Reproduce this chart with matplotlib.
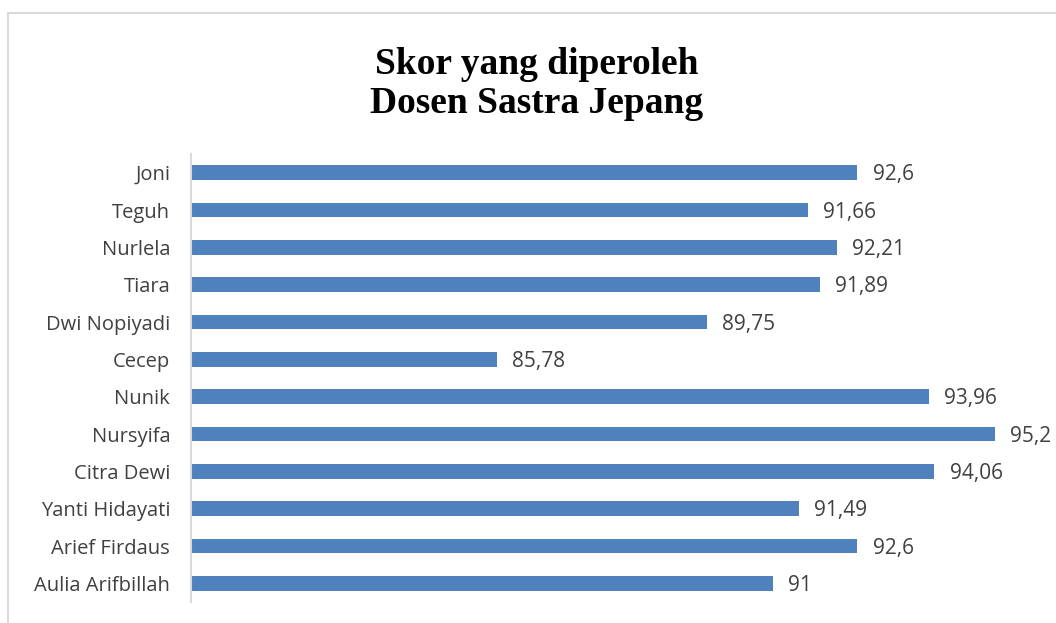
import matplotlib.pyplot as plt
from matplotlib.lines import Line2D

names = ['Joni', 'Teguh', 'Nurlela', 'Tiara', 'Dwi Nopiyadi', 'Cecep', 'Nunik',
         'Nursyifa', 'Citra Dewi', 'Yanti Hidayati', 'Arief Firdaus', 'Aulia Arifbillah']
scores = [92.6, 91.66, 92.21, 91.89, 89.75, 85.78, 93.96, 95.2, 94.06, 91.49, 92.6, 91]
score_labels = ['92,6', '91,66', '92,21', '91,89', '89,75', '85,78', '93,96',
                '95,2', '94,06', '91,49', '92,6', '91']

W, H = 1056, 623
fig = plt.figure(figsize=(W / 100, H / 100), dpi=100)

# bingkai chart (abu-abu muda)
fig.add_artist(Line2D([8 / W, 8 / W], [0, 1 - 13 / H], color='#D9D9D9', lw=1.5))
fig.add_artist(Line2D([8 / W, 1], [1 - 13 / H, 1 - 13 / H], color='#D9D9D9', lw=1.5))

# judul
fig.text(537 / W, 1 - 84 / H, 'Skor yang diperoleh\nDosen Sastra Jepang',
         ha='center', va='center', fontsize=27, fontweight='bold',
         family='Liberation Serif', linespacing=1.12)

ax = fig.add_axes([191 / W, 21 / H, (1037 - 191) / W, (602 - 154) / H])
y = list(range(len(names)))
ax.barh(y, scores, height=0.4, color='#4F81BD')
ax.set_xlim(80, 96)
ax.set_ylim(len(names) - 0.5, -0.5)

ax.set_yticks(y)
ax.set_yticklabels(names, fontsize=14.5, color='#404040', family='Open Sans')
ax.set_xticks([])
ax.tick_params(axis='y', length=0, pad=15)

for s in ['top', 'right', 'bottom']:
    ax.spines[s].set_visible(False)
ax.spines['left'].set_color('#D9D9D9')
ax.spines['left'].set_linewidth(1.5)

for yi, v, lab in zip(y, scores, score_labels):
    ax.annotate(lab, (v, yi), xytext=(11, -1.5), textcoords='offset points',
                ha='left', va='center', fontsize=15, color='#404040', family='Open Sans')

fig.savefig('out.png', dpi=100)
